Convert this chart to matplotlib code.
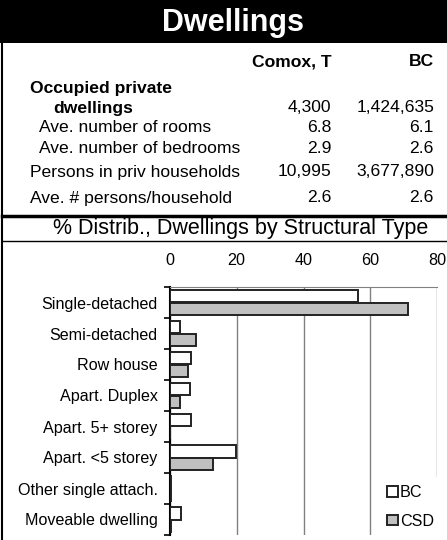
import matplotlib
matplotlib.use("Agg")
import matplotlib.pyplot as plt
from matplotlib.patches import Rectangle
from numpy import arange

plt.rcParams["font.family"] = ["Liberation Sans", "DejaVu Sans"]

W, H = 447, 540

# table data
col_names = ["Comox, T", "BC"]
row_labels = ["Ave. number of rooms",
              "Ave. number of bedrooms",
              "Persons in priv households",
              "Ave. # persons/household"]
occupied = ["4,300", "1,424,635"]
comox_vals = ["6.8", "2.9", "10,995", "2.6"]
bc_vals = ["6.1", "2.6", "3,677,890", "2.6"]

# chart data (% distribution)
categories = ["Single-detached",
              "Semi-detached",
              "Row house",
              "Apart. Duplex",
              "Apart. 5+ storey",
              "Apart. <5 storey",
              "Other single attach.",
              "Moveable dwelling"]
bc_pct = [56.3, 3.0, 6.2, 6.1, 6.2, 19.9, 0.2, 3.2]
csd_pct = [71.2, 7.8, 5.3, 3.1, 0.0, 13.0, 0.3, 0.4]


def fy(py):
    # pixel from top -> figure fraction
    return 1 - py / H


def fx(px):
    return px / W


fig = plt.figure(figsize=(W / 100, H / 100), dpi=100)

# frame pieces
fig.patches.append(Rectangle((0, fy(43)), 1, 43 / H, transform=fig.transFigure,
                             facecolor="black", edgecolor="none"))
fig.add_artist(plt.Line2D([fx(2), fx(2)], [0, 1], color="black", lw=1.5))
fig.add_artist(plt.Line2D([fx(2), 1], [fy(215.5), fy(215.5)], color="black", lw=2.5))
fig.add_artist(plt.Line2D([fx(2), 1], [fy(240.5), fy(240.5)], color="black", lw=1))

fig.text(fx(233), fy(23), "Dwellings", color="white", fontsize=22,
         fontweight="bold", ha="center", va="center")

# table
fs = 12.6
c1, c2 = 331.5, 434
fig.text(fx(c1), fy(62), col_names[0], fontsize=fs, fontweight="bold",
         ha="right", va="center")
fig.text(fx(c2), fy(62), col_names[1], fontsize=fs, fontweight="bold",
         ha="right", va="center")
fig.text(fx(30), fy(88), "Occupied private", fontsize=fs, fontweight="bold",
         ha="left", va="center")
fig.text(fx(53), fy(108), "dwellings", fontsize=fs, fontweight="bold",
         ha="left", va="center")
fig.text(fx(c1), fy(108), occupied[0], fontsize=fs, ha="right", va="center")
fig.text(fx(c2), fy(108), occupied[1], fontsize=fs, ha="right", va="center")
row_y = [128, 148, 172, 198]
row_x = [39, 39, 30, 30]
for lab, a, b, y, x in zip(row_labels, comox_vals, bc_vals, row_y, row_x):
    fig.text(fx(x), fy(y), lab, fontsize=fs, ha="left", va="center")
    fig.text(fx(c1), fy(y), a, fontsize=fs, ha="right", va="center")
    fig.text(fx(c2), fy(y), b, fontsize=fs, ha="right", va="center")

fig.text(fx(241), fy(228), "% Distrib., Dwellings by Structural Type",
         fontsize=15.5, ha="center", va="center")

# bar chart
ax = fig.add_axes([fx(170), fy(535), fx(437 - 170), (535 - 287) / H])
pos = arange(len(categories))
h = 0.4
ax.barh(pos - h / 2, bc_pct, height=h, color="white", edgecolor="#222222",
        lw=1.4, label="BC", zorder=3)
ax.barh(pos + h / 2, csd_pct, height=h, color="#c0c0c0", edgecolor="#222222",
        lw=1.4, label="CSD", zorder=3)
ax.set_xlim(0, 80)
ax.set_ylim(len(categories) - 0.5, -0.5)
ax.set_xticks([0, 20, 40, 60, 80])
ax.xaxis.tick_top()
ax.tick_params(axis="x", length=0, pad=14, labelsize=11.6)
ax.set_yticks(pos, categories)
ax.set_yticks(arange(-0.5, len(categories), 1), minor=True)
ax.tick_params(axis="y", which="major", length=0, pad=9, labelsize=11.6)
ax.tick_params(axis="y", which="minor", length=4, width=1.2, direction="out")
ax.grid(axis="x", color="#808080", lw=1, zorder=0)
ax.spines["right"].set_visible(False)
ax.spines["bottom"].set_visible(False)
ax.spines["top"].set_color("#808080")
ax.spines["left"].set_linewidth(1.5)

leg = ax.legend(loc="upper left",
                bbox_to_anchor=(fx(379), fy(540), fx(447 - 379), (540 - 477) / H),
                bbox_transform=fig.transFigure, mode="expand", fontsize=11.6,
                handlelength=0.65, handleheight=0.65, handletextpad=0.15,
                labelspacing=0.85, borderpad=0.5, borderaxespad=0,
                frameon=True, fancybox=False, framealpha=1)
leg.get_frame().set_edgecolor("white")
leg.set_zorder(5)

fig.savefig("out.png", dpi=100)
